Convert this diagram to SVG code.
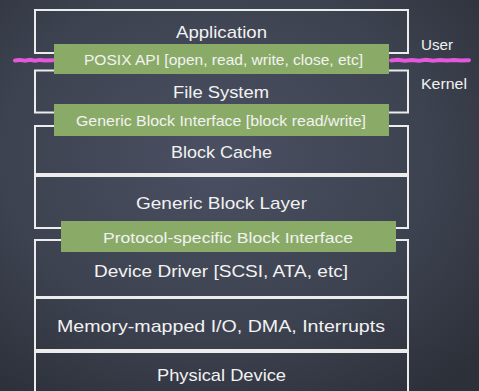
<svg xmlns="http://www.w3.org/2000/svg" width="479" height="391" viewBox="0 0 479 391">
<defs>
<radialGradient id="bg" cx="0.45" cy="0.4" r="0.75">
<stop offset="0" stop-color="#4a5062"/>
<stop offset="0.6" stop-color="#3d4250"/>
<stop offset="1" stop-color="#2c3039"/>
</radialGradient>
<style>
.box{fill:none;stroke:#ececec;stroke-width:2}
.bar{fill:#8aab68}
.t{font-family:"Liberation Sans",Arial,sans-serif;fill:#f2f2f2;text-anchor:middle}
.lg{font-size:17px}
.sm{font-size:15px}
.side{font-family:"Liberation Sans",Arial,sans-serif;fill:#f2f2f2;font-size:15px}
.sep{fill:none;stroke:#e458dc;stroke-width:4;stroke-linecap:round}
</style>
</defs>
<rect width="479" height="391" fill="url(#bg)"/>
<g id="connectors">
<path class="sep" d="M15 60.5 L20 59.9 L25 60.7 L30 59.9 L35 60.7 L40 59.9 L45 60.6 L53 60.2"/>
<path class="sep" d="M391 60.4 L398 59.8 L405 60.7 L412 59.9 L419 60.7 L426 59.8 L433 60.7 L440 59.9 L447 60.6 L454 59.9 L461 60.6 L469 60.2"/>
</g>
<g id="application"><rect class="box" x="35" y="10" width="373" height="43"/><text class="t lg" x="221.5" y="38" textLength="91" lengthAdjust="spacingAndGlyphs">Application</text></g>
<g id="filesystem"><rect class="box" x="35" y="70.5" width="373" height="42"/><text class="t lg" x="221" y="98" textLength="96" lengthAdjust="spacingAndGlyphs">File System</text></g>
<g id="blockcache"><rect class="box" x="35" y="126" width="373" height="48"/><text class="t lg" x="221.5" y="158" textLength="101" lengthAdjust="spacingAndGlyphs">Block Cache</text></g>
<g id="genericlayer"><rect class="box" x="35" y="176" width="373" height="52"/><text class="t lg" x="221.5" y="209" textLength="171" lengthAdjust="spacingAndGlyphs">Generic Block Layer</text></g>
<g id="devicedriver"><rect class="box" x="35" y="240" width="373" height="57"/><text class="t lg" x="221" y="277" textLength="254" lengthAdjust="spacingAndGlyphs">Device Driver [SCSI, ATA, etc]</text></g>
<g id="mmio"><rect class="box" x="35" y="298" width="373" height="52"/><text class="t lg" x="221" y="332" textLength="328" lengthAdjust="spacingAndGlyphs">Memory-mapped I/O, DMA, Interrupts</text></g>
<g id="physical"><rect class="box" x="35" y="352" width="373" height="45"/><text class="t lg" x="221.5" y="381" textLength="129" lengthAdjust="spacingAndGlyphs">Physical Device</text></g>
<g id="posix"><rect class="bar" x="54" y="44" width="335" height="30"/><text class="t sm" x="223.5" y="65" textLength="279" lengthAdjust="spacingAndGlyphs">POSIX API [open, read, write, close, etc]</text></g>
<g id="genericinterface"><rect class="bar" x="54" y="104" width="335" height="32"/><text class="t sm" x="221" y="126" textLength="290" lengthAdjust="spacingAndGlyphs">Generic Block Interface [block read/write]</text></g>
<g id="protocol"><rect class="bar" x="61" y="221" width="335" height="31"/><text class="t sm" x="228" y="243" textLength="250" lengthAdjust="spacingAndGlyphs">Protocol-specific Block Interface</text></g>
<g id="user"><text class="side" x="421" y="50" textLength="32" lengthAdjust="spacingAndGlyphs">User</text></g>
<g id="kernel"><text class="side" x="421" y="89" textLength="46" lengthAdjust="spacingAndGlyphs">Kernel</text></g>
</svg>
